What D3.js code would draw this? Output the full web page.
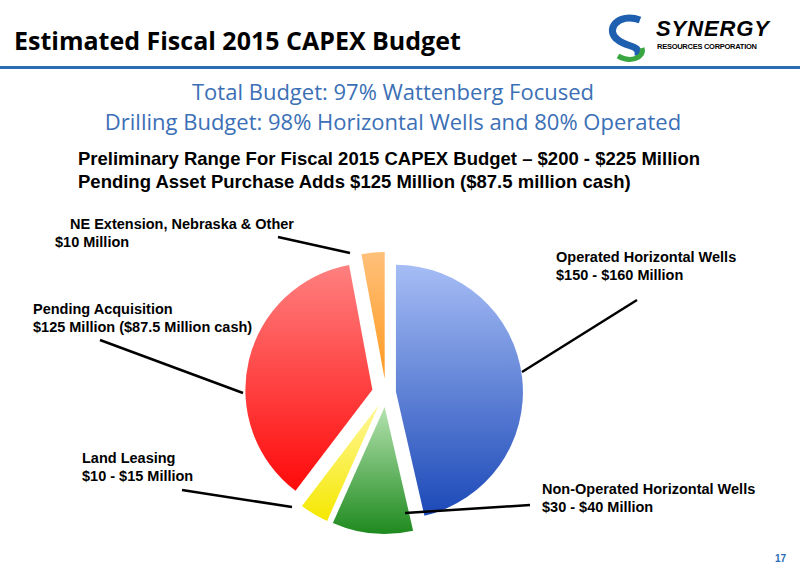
<!DOCTYPE html>
<html><head><meta charset="utf-8">
<script src="https://cdn.jsdelivr.net/npm/d3@7"></script>
<style>body{margin:0;background:#fff}svg{display:block}</style>
</head><body>
<svg id="c" width="800" height="571"></svg>
<script>
const categories = ["Operated Horizontal Wells","Non-Operated Horizontal Wells","Land Leasing","Pending Acquisition","NE Extension, Nebraska & Other"];
const values = [158, 35, 12.5, 125, 10];
const labels = [
  ["Operated Horizontal Wells","$150 - $160 Million"],
  ["Non-Operated Horizontal Wells","$30 - $40 Million"],
  ["Land Leasing","$10 - $15 Million"],
  ["Pending Acquisition","$125 Million ($87.5 Million cash)"],
  ["NE Extension, Nebraska & Other","$10 Million"]
];
const colors = [["#a6bdf5","#1c49b8"],["#b5e3b0","#1e8a1e"],["#fff79a","#f5e800"],["#ff8080","#ff0a0a"],["#ffc07a","#ff9a1f"]];

const svg = d3.select("#c");
const font = "Liberation Sans, Arial, sans-serif";
svg.append("text").attr("x",14).attr("y",50).attr("font-family","Open Sans, Lato, sans-serif")
  .attr("font-weight","bold").attr("font-size",25).attr("fill","#000").text("Estimated Fiscal 2015 CAPEX Budget");
svg.append("rect").attr("x",0).attr("y",66).attr("width",800).attr("height",3).attr("fill","#2a6db5");
// logo
const lg = svg.append("g");
lg.append("path").attr("d","M640,20 C618,12 604,30 618,40 C628,48 640,44 638,56").attr("fill","none").attr("stroke","#1f5fb0").attr("stroke-width",7);
lg.append("path").attr("d","M618,56 C630,63 645,58 642,48").attr("fill","none").attr("stroke","#3aa640").attr("stroke-width",5);
lg.append("text").attr("x",656).attr("y",36).attr("font-family",font).attr("font-weight","bold").attr("font-style","italic").attr("font-size",22).attr("textLength",113).text("SYNERGY");
lg.append("text").attr("x",657).attr("y",49).attr("font-family",font).attr("font-weight","bold").attr("font-size",7.5).attr("textLength",100).text("RESOURCES CORPORATION");

svg.append("text").attr("x",393).attr("y",100).attr("text-anchor","middle").attr("font-family","Open Sans, sans-serif").attr("font-size",22).attr("fill","#3b6fb6").text("Total Budget: 97% Wattenberg Focused");
svg.append("text").attr("x",393).attr("y",130).attr("text-anchor","middle").attr("font-family","Open Sans, sans-serif").attr("font-size",22).attr("fill","#3b6fb6").text("Drilling Budget: 98% Horizontal Wells and 80% Operated");
svg.append("text").attr("x",78).attr("y",165).attr("font-family",font).attr("font-weight","bold").attr("font-size",18.5).text("Preliminary Range For Fiscal 2015 CAPEX Budget \u2013 $200 - $225 Million");
svg.append("text").attr("x",78).attr("y",188).attr("font-family",font).attr("font-weight","bold").attr("font-size",18.5).text("Pending Asset Purchase Adds $125 Million ($87.5 million cash)");

const cx = 386, cy = 393, r = 127;
const pie = d3.pie().sort(null).value(d=>d)(values);
const arc = d3.arc().innerRadius(0).outerRadius(r);
const defs = svg.append("defs");
colors.forEach((c,i)=>{
  const g = defs.append("linearGradient").attr("id","g"+i).attr("x1",0).attr("y1",0).attr("x2",0).attr("y2",1);
  g.append("stop").attr("offset","0%").attr("stop-color",c[0]);
  g.append("stop").attr("offset","100%").attr("stop-color",c[1]);
});
const explode = [10, 14, 14, 14, 14];
const pg = svg.append("g").attr("transform",`translate(${cx},${cy})`);
pie.forEach((p,i)=>{
  const m = (p.startAngle+p.endAngle)/2;
  const dx = Math.sin(m)*explode[i], dy = -Math.cos(m)*explode[i];
  pg.append("path").attr("d",arc(p)).attr("transform",`translate(${dx},${dy})`).attr("fill",`url(#g${i})`);
});
// leader lines and labels
const leaders = [[[522,372],[637,300]],[[405,513],[530,505]],[[292,507],[182,490]],[[243,393],[100,340]],[[350,253],[278,237]]];
leaders.forEach(l=>svg.append("line").attr("x1",l[0][0]).attr("y1",l[0][1]).attr("x2",l[1][0]).attr("y2",l[1][1]).attr("stroke","#000").attr("stroke-width",2.5));
const lpos = [[556,262],[542,494],[82,463],[33,314],[66,229]];
labels.forEach((L,i)=>{
  const t = svg.append("text").attr("font-family",font).attr("font-weight","bold").attr("font-size",14.5).attr("fill","#000");
  if(i===4){
    t.append("tspan").attr("x",70).attr("y",lpos[i][1]).text(L[0]);
    t.append("tspan").attr("x",55).attr("y",lpos[i][1]+18).text(L[1]);
  } else L.forEach((s,j)=>t.append("tspan").attr("x",lpos[i][0]).attr("y",lpos[i][1]+j*18).text(s));
});
svg.append("text").attr("x",786).attr("y",562).attr("text-anchor","end").attr("font-family",font).attr("font-weight","bold").attr("font-size",10).attr("fill","#2a6db5").text("17");
</script>
</body></html>
